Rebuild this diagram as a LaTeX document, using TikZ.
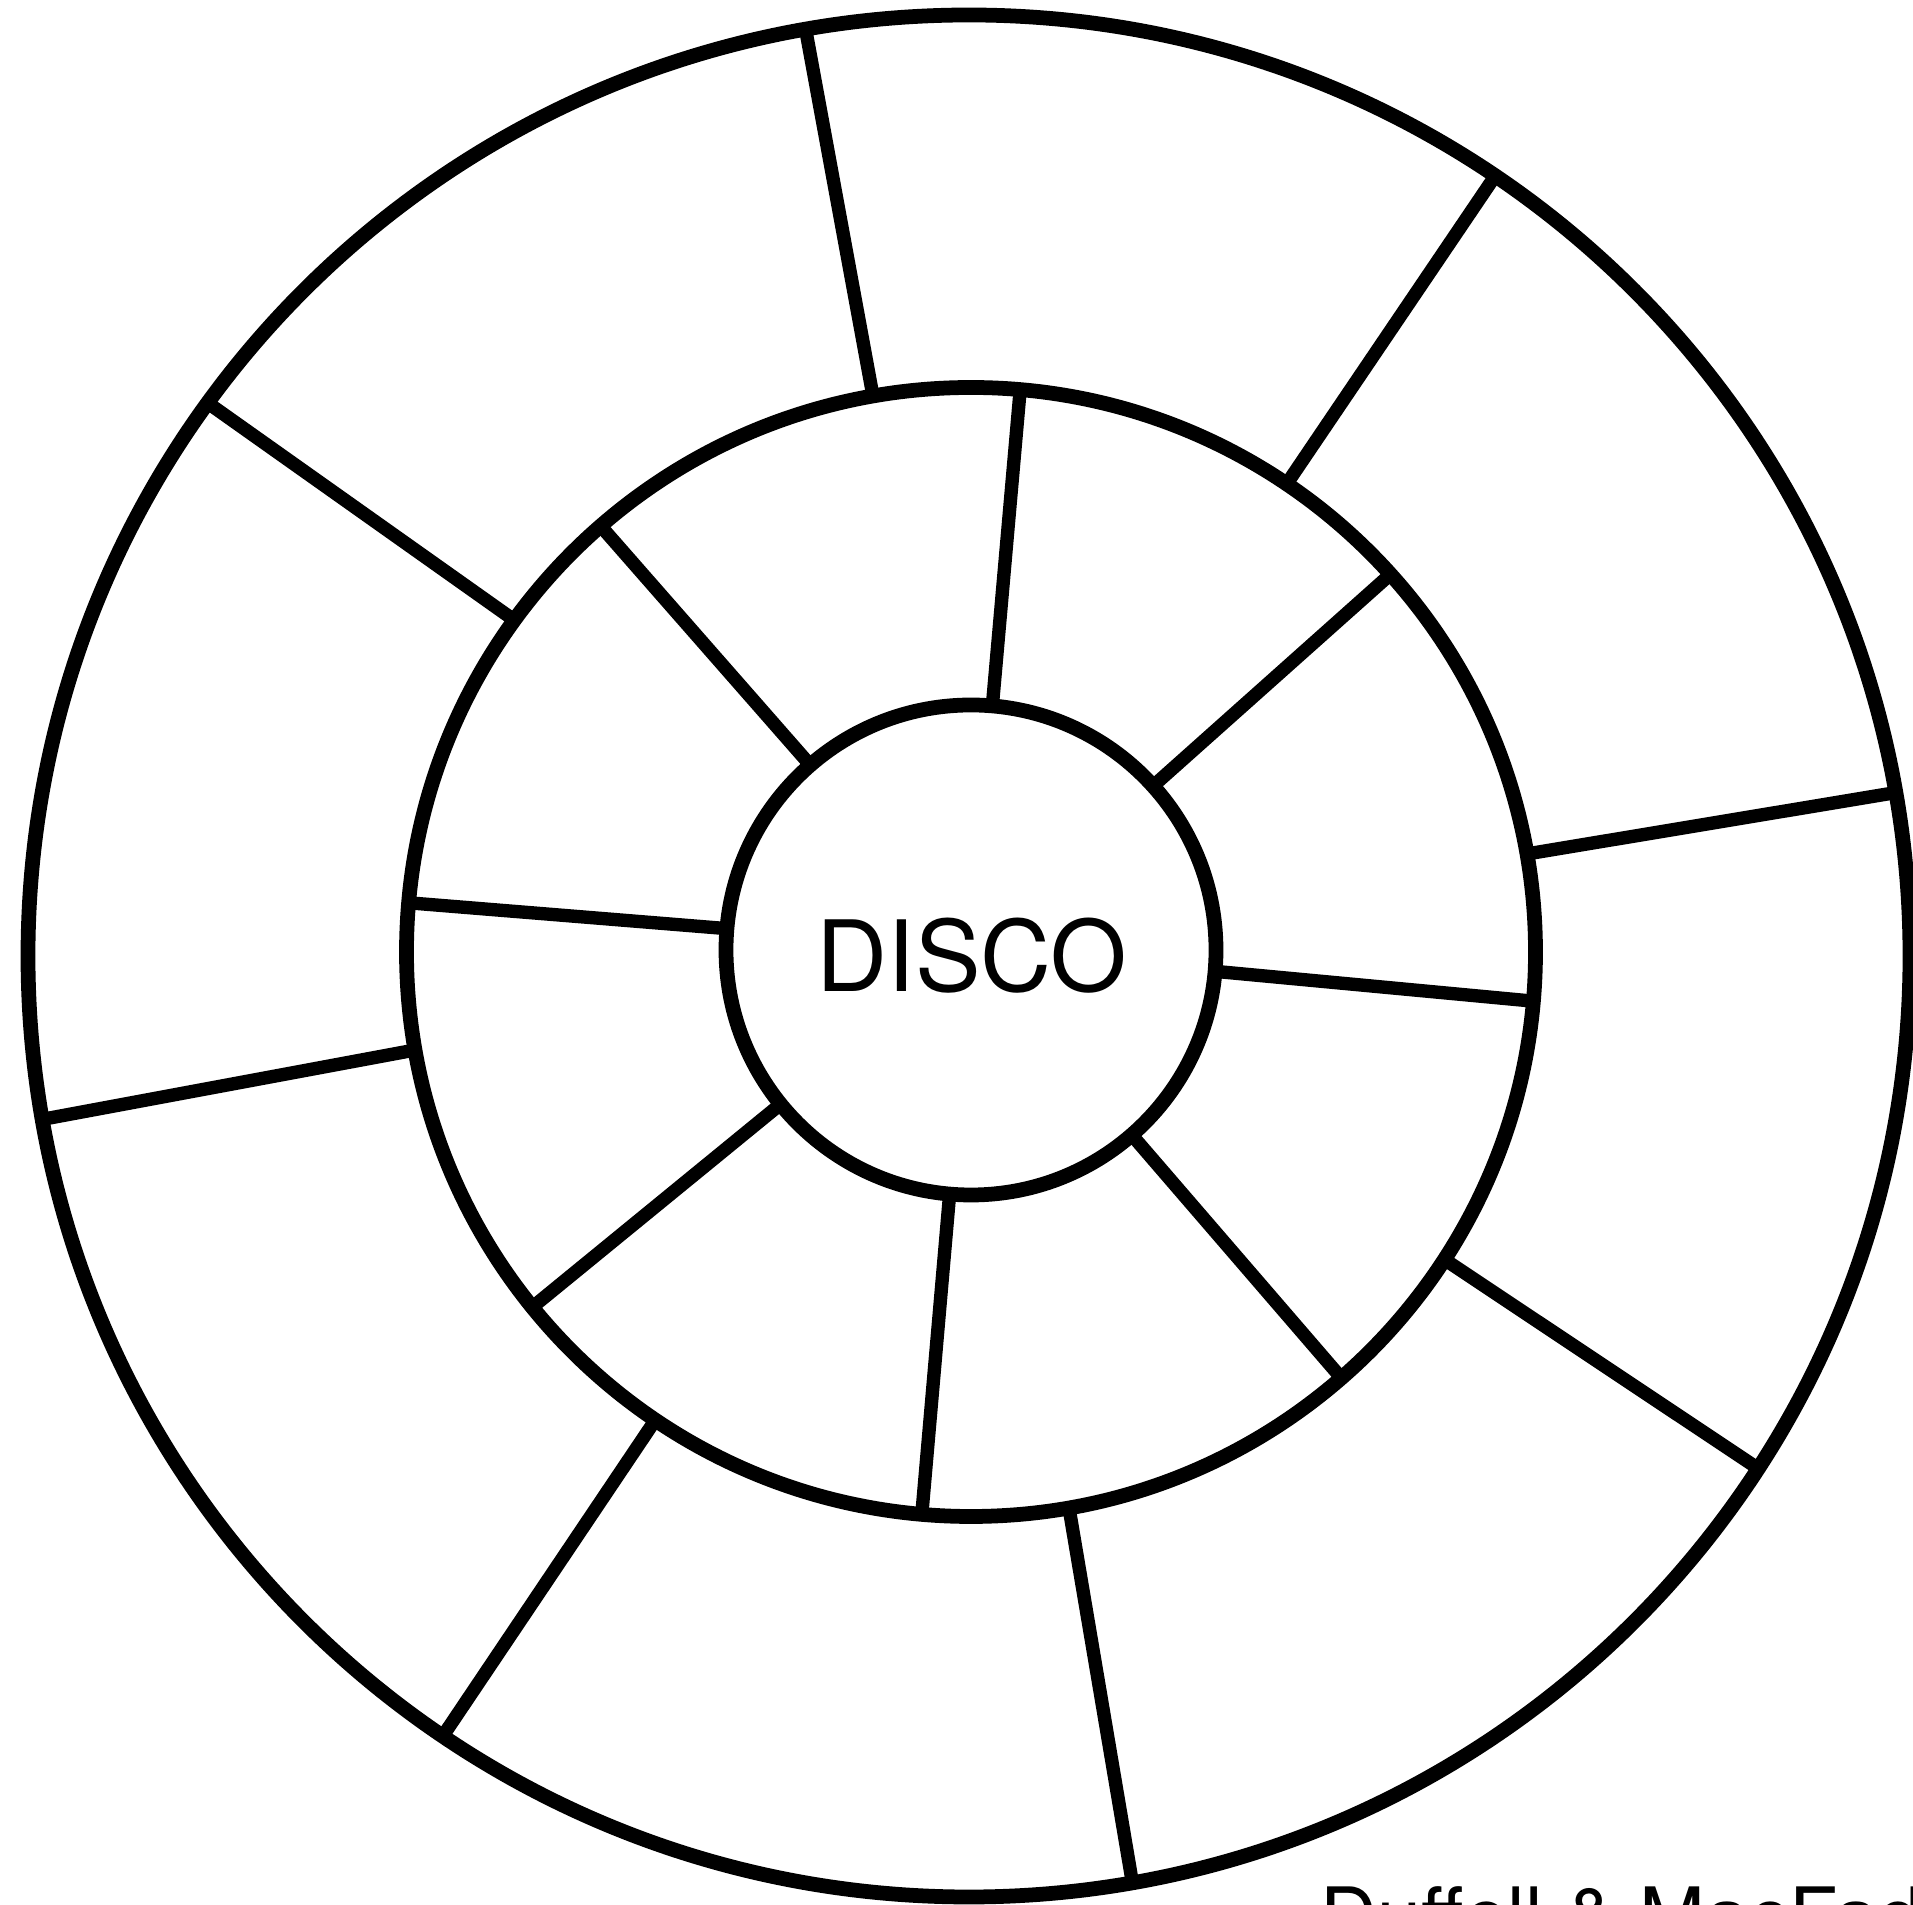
\documentclass[tikz,border=0pt]{standalone}
\usepackage{fontspec}
\setmainfont{TeX Gyre Heros}
\usepackage{tikz}
\usetikzlibrary{positioning}

\begin{document}
\begin{tikzpicture}[
  ring/.style={circle, draw=black, line width=4.2pt, inner sep=0pt, outer sep=0pt},
  spoke/.style={draw=black, line width=3.8pt},
  title/.style={inner sep=0pt, font=\fontsize{28}{32}\selectfont},
  credit/.style={anchor=base west, inner sep=0pt, font=\fontsize{22.5}{26}\selectfont}
]
  \useasboundingbox (0,0) rectangle (19.13,19.05);
  \clip (0,0) rectangle (19.13,19.05);

  \node[ring, minimum size=18.82cm] (outer) at (9.69,9.49) {};
  \node[ring, minimum size=11.29cm] (middle) at (9.71,9.53) {};
  \node[ring, minimum size=4.90cm] (core) at (9.71,9.55) {};
  \node[title] (name) at (9.72,9.49) {DISCO};

  % inner ring of cells
  \draw[spoke] (core.85) -- (middle.85);
  \draw[spoke] (core.42) -- (middle.42);
  \draw[spoke] (core.-5) -- (middle.-5);
  \draw[spoke] (core.-49) -- (middle.-49);
  \draw[spoke] (core.-95) -- (middle.-95);
  \draw[spoke] (core.219) -- (middle.219);
  \draw[spoke] (core.175) -- (middle.175);
  \draw[spoke] (core.131) -- (middle.131);

  % outer ring of cells
  \draw[spoke] (middle.100) -- (outer.100);
  \draw[spoke] (middle.56) -- (outer.56);
  \draw[spoke] (middle.10) -- (outer.10);
  \draw[spoke] (middle.-33) -- (outer.-33);
  \draw[spoke] (middle.-80) -- (outer.-80);
  \draw[spoke] (middle.236) -- (outer.236);
  \draw[spoke] (middle.190) -- (outer.190);
  \draw[spoke] (middle.144) -- (outer.144);

  \node[credit] (cite) at (13.20,-0.40) {Duffell \& MacFad};
\end{tikzpicture}
\end{document}
